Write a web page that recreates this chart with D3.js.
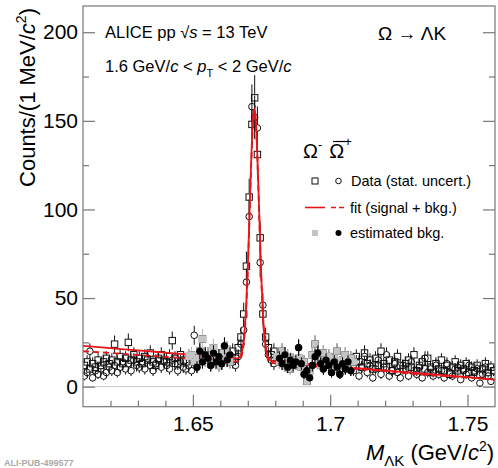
<!DOCTYPE html>
<html><head><meta charset="utf-8">
<script src="https://cdn.jsdelivr.net/npm/d3@7"></script>
<style>body{margin:0;background:#fff} svg{display:block} text{font-family:"Liberation Sans",Arial,Helvetica,sans-serif}</style>
</head><body><svg id="c" width="498" height="468"></svg>
<script>
// ---- binning (1 MeV bins) ----
const binLow = 1.61, binWidth = 0.001, nBins = 150;

// Omega- (open squares), counts per bin
const omegaMinus = [
 12,14,10,13,11,15,12,14,16,13,
 15,24,14,17,13,16,25,15,18,14,
 16,13,17,15,19,14,12,16,18,15,
 14,17,26,16,13,18,15,14,
 17,18,14,16,20,27,15,18,13,22,16,12,19,15,21,14,
 20,16,22,28,41,68,107,148,163,131,84,41,28,22,18,20,17,
 14,20,12,17,10,15,13,16,11,14,3,9,18,24,15,12,19,14,17,11,16,20,13,15,18,12,16,14,
 17,14,11,19,13,15,10,16,12,
 20,13,11,15,9,14,17,12,10,13,
 15,11,18,9,12,14,10,16,11,8,
 13,10,15,9,12,7,11,14,9,12,
 10,13,8,11,9,12,7,10,13,8,11,9
];
// anti-Omega+ (open circles)
const omegaPlus = [
 6,8,20,5,9,7,10,6,8,11,
 9,12,8,11,14,10,13,9,15,12,
 11,14,10,16,12,9,13,15,11,14,
 12,10,15,13,9,14,11,10,
 12,9,29,
 11,20,14,18,16,12,19,14,17,13,23,15,18,
 14,12,17,24,32,59,96,158,152,146,70,46,24,18,15,13,16,
 16,13,18,11,15,12,14,22,13,7,9,5,12,17,19,13,10,15,12,8,14,11,7,13,10,14,9,
 9,14,6,11,17,8,12,5,10,15,
 7,11,18,6,9,13,8,5,12,10,
 6,14,9,7,11,5,16,8,10,6,
 12,7,9,5,13,8,6,10,11,4,
 9,7,12,5,8,10,2,7,11,6,3,9
];
// estimated background (sidebands): first bin index + values
const bkgMinusLeftFirstBin = 38;
const bkgMinusLeft = [17,18,14,16,20,27,15,18,13,22,16,12,19,15,21,14];
const bkgMinusRightFirstBin = 70;
const bkgMinusRight = [17,14,20,12,17,10,15,13,16,11,14,3,9,18,24,15,12,19,14,17,11,16,20,13,15,18,12,16,14];
const bkgPlusLeftFirstBin = 41;
const bkgPlusLeft = [11,20,14,18,16,12,19,14,17,13,23,15,18];
const bkgPlusRightFirstBin = 71;
const bkgPlusRight = [16,13,18,11,15,12,14,22,13,7,9,5,12,17,19,13,10,15,12,8,14,11,7,13,10,14,9];

// fit curves
const fitMass = [1.610,1.620,1.630,1.640,1.650,1.660,1.664,1.666,1.667,1.668,1.6685,1.669,1.6695,1.670,1.6705,1.671,1.6715,1.672,1.6725,1.673,1.6735,1.674,1.6745,1.675,1.6755,1.676,1.6765,1.677,1.678,1.680,1.690,1.700,1.710,1.720,1.730,1.740,1.750,1.760];
const fitMinus = [23,21.7,20.5,19.2,17.9,16.7,16.2,16.0,16.7,20.7,25.8,34.8,48.6,67.8,91.4,116.4,138.7,153.3,156.9,148.5,130.2,106.2,81.1,58.9,41.7,29.8,22.5,18.3,15.1,14.2,13.0,11.7,10.4,9.2,7.9,6.6,5.4,4.0];
const fitPlus  = [20,19,17.9,16.8,15.7,14.7,14.3,14.2,15,19,24,33,46.5,65.5,89,114,136,151,155,146.5,128,104,79,57,40,28,22,17,14,13.1,12,10.9,9.9,8.8,7.2,6.1,5.1,4.0];

// axis ticks
const xMajorTicks = [1.65,1.70,1.75];
const xMinorTicks = [1.62,1.63,1.64,1.66,1.67,1.68,1.69,1.71,1.72,1.73,1.74];
const yMajorTicks = [0,50,100,150,200];
const yMinorTicks = [25,75,125,175];

// ---- drawing ----
const svg = d3.select("#c");
const L=83, R=495, T=6, B=406.7;
const x = d3.scaleLinear().domain([1.61,1.76]).range([L,R]);
const y = d3.scaleLinear().domain([-11.3,214.8]).range([B,T]);
const center = i => binLow + binWidth*(i+0.5);

svg.append("defs").append("clipPath").attr("id","clip")
  .append("rect").attr("x",L).attr("y",T).attr("width",R-L).attr("height",B-T);
const plot = svg.append("g").attr("clip-path","url(#clip)");

// zero line
plot.append("line").attr("x1",L).attr("x2",R).attr("y1",y(0)).attr("y2",y(0))
  .attr("stroke","#c8c8c8").attr("stroke-width",1);

function drawPoints(g, vals, firstBin, shape, opt){
  const pts = vals.map((v,k)=>({m:center(firstBin+k), v}));
  const half = opt.size;
  const eg = g.append("g").attr("stroke",opt.err).attr("stroke-width",1);
  pts.forEach(p=>{
    const e = Math.sqrt(p.v), cx=x(p.m), cy=y(p.v);
    eg.append("line").attr("x1",cx).attr("x2",cx).attr("y1",y(p.v+e)).attr("y2",cy-half);
    eg.append("line").attr("x1",cx).attr("x2",cx).attr("y1",cy+half).attr("y2",y(p.v-e));
  });
  const mg = g.append("g");
  if(shape==="square"){
    mg.selectAll("rect").data(pts).join("rect")
      .attr("x",p=>x(p.m)-half).attr("y",p=>y(p.v)-half)
      .attr("width",2*half).attr("height",2*half)
      .attr("fill",opt.fill).attr("stroke",opt.stroke).attr("stroke-width",opt.sw);
  } else {
    mg.selectAll("circle").data(pts).join("circle")
      .attr("cx",p=>x(p.m)).attr("cy",p=>y(p.v)).attr("r",half)
      .attr("fill",opt.fill).attr("stroke",opt.stroke).attr("stroke-width",opt.sw);
  }
}

const openOpt = {size:3.2, fill:"none", stroke:"#111", sw:1, err:"#111"};
drawPoints(plot, omegaMinus, 0, "square", openOpt);
drawPoints(plot, omegaPlus, 0, "circle", {size:3.3, fill:"none", stroke:"#111", sw:1, err:"#111"});

// fits
const line = d3.line().x((d,i)=>x(fitMass[i])).y(d=>y(d)).curve(d3.curveMonotoneX);
plot.append("path").attr("d",line(fitPlus)).attr("fill","none").attr("stroke","#e8141a")
  .attr("stroke-width",1.8).attr("stroke-dasharray","6,4");
plot.append("path").attr("d",line(fitMinus)).attr("fill","none").attr("stroke","#e8141a")
  .attr("stroke-width",1.8);

// estimated background
const grayOpt = {size:3.5, fill:"#c4c4c4", stroke:"none", sw:0, err:"#c4c4c4"};
drawPoints(plot, bkgMinusLeft, bkgMinusLeftFirstBin, "square", grayOpt);
drawPoints(plot, bkgMinusRight, bkgMinusRightFirstBin, "square", grayOpt);
const blackOpt = {size:3.6, fill:"#000", stroke:"none", sw:0, err:"#000"};
drawPoints(plot, bkgPlusLeft, bkgPlusLeftFirstBin, "circle", blackOpt);
drawPoints(plot, bkgPlusRight, bkgPlusRightFirstBin, "circle", blackOpt);

// frame
svg.append("rect").attr("x",L).attr("y",T).attr("width",R-L).attr("height",B-T)
  .attr("fill","none").attr("stroke","#777").attr("stroke-width",1.2);

// axes
function styleAxis(g){ g.select(".domain").remove(); g.selectAll(".tick line").attr("stroke","#777").attr("stroke-width",1.2);
  g.selectAll("text").attr("font-size",21).attr("fill","#000").attr("font-family",'"Liberation Sans",Arial,sans-serif'); }
svg.append("g").attr("transform",`translate(0,${B})`)
  .call(d3.axisBottom(x).tickValues(xMajorTicks).tickSizeInner(-12).tickSizeOuter(0).tickPadding(9.5)
  .tickFormat(d=>d3.format("")(+d.toFixed(2)))).call(styleAxis);
svg.append("g").attr("transform",`translate(0,${B})`)
  .call(d3.axisBottom(x).tickValues(xMinorTicks).tickSizeInner(-6).tickSizeOuter(0).tickFormat("")).call(styleAxis);
svg.append("g").attr("transform",`translate(${L},0)`)
  .call(d3.axisLeft(y).tickValues(yMajorTicks).tickSizeInner(-12).tickSizeOuter(0).tickPadding(5)).call(styleAxis);
svg.append("g").attr("transform",`translate(${L},0)`)
  .call(d3.axisLeft(y).tickValues(yMinorTicks).tickSizeInner(-6).tickSizeOuter(0).tickFormat("")).call(styleAxis);
svg.append("g").attr("transform",`translate(${R},0)`)
  .call(d3.axisRight(y).tickValues(yMajorTicks).tickSizeInner(-12).tickSizeOuter(0).tickFormat("")).call(styleAxis);
svg.append("g").attr("transform",`translate(${R},0)`)
  .call(d3.axisRight(y).tickValues(yMinorTicks).tickSizeInner(-6).tickSizeOuter(0).tickFormat("")).call(styleAxis);

// axis titles
const yt = svg.append("text").attr("transform","translate(35,8) rotate(-90)").attr("text-anchor","end").attr("font-size",22);
yt.append("tspan").text("Counts/(1 MeV/");
yt.append("tspan").attr("font-style","italic").text("c");
yt.append("tspan").attr("font-size",14).attr("dy",-9).text("2");
yt.append("tspan").attr("dy",9).text(")");

const xt = svg.append("text").attr("x",494).attr("y",460).attr("text-anchor","end").attr("font-size",22);
xt.append("tspan").attr("font-style","italic").text("M");
xt.append("tspan").attr("font-size",15).attr("dy",6).text("ΛK");
xt.append("tspan").attr("dy",-6).text(" (GeV/");
xt.append("tspan").attr("font-style","italic").text("c");
xt.append("tspan").attr("font-size",14).attr("dy",-9).text("2");
xt.append("tspan").attr("dy",9).text(")");

// labels
const t1 = svg.append("text").attr("x",105).attr("y",38).attr("font-size",16.5);
t1.append("tspan").text("ALICE pp ");
t1.append("tspan").text("√");
t1.append("tspan").attr("font-style","italic").text("s");
t1.append("tspan").text(" = 13 TeV");
const t2 = svg.append("text").attr("x",105).attr("y",72).attr("font-size",16.5);
t2.append("tspan").text("1.6 GeV/");
t2.append("tspan").attr("font-style","italic").text("c");
t2.append("tspan").text(" < ");
t2.append("tspan").attr("font-style","italic").text("p");
t2.append("tspan").attr("font-size",11).attr("dy",5).text("T");
t2.append("tspan").attr("dy",-5).text(" < 2 GeV/");
t2.append("tspan").attr("font-style","italic").text("c");
svg.append("text").attr("x",378).attr("y",40).attr("font-size",19).text("Ω → ΛK");

// legend
const lg = svg.append("g");
const h = lg.append("text").attr("x",303).attr("y",158).attr("font-size",20);
h.append("tspan").text("Ω");
h.append("tspan").attr("font-size",13).attr("dy",-9).text("-");
h.append("tspan").attr("dy",9).attr("dx",7).text("Ω");
h.append("tspan").attr("font-size",13).attr("dy",-12).text("+");
lg.append("line").attr("x1",333).attr("x2",349).attr("y1",141.5).attr("y2",141.5).attr("stroke","#000").attr("stroke-width",1.2);

const rows = [181, 207.5, 233];
lg.append("rect").attr("x",312).attr("y",rows[0]-3).attr("width",6).attr("height",6).attr("fill","none").attr("stroke","#111");
lg.append("circle").attr("cx",338.5).attr("cy",rows[0]).attr("r",2.8).attr("fill","none").attr("stroke","#111");
lg.append("text").attr("x",351).attr("y",rows[0]+5).attr("font-size",14.5).text("Data (stat. uncert.)");
lg.append("line").attr("x1",305).attr("x2",325).attr("y1",rows[1]).attr("y2",rows[1]).attr("stroke","#e8141a").attr("stroke-width",1.6);
lg.append("line").attr("x1",331).attr("x2",346).attr("y1",rows[1]).attr("y2",rows[1]).attr("stroke","#e8141a").attr("stroke-width",1.6).attr("stroke-dasharray","5,3");
lg.append("text").attr("x",350).attr("y",rows[1]+5).attr("font-size",14.5).text("fit (signal + bkg.)");
lg.append("rect").attr("x",312).attr("y",rows[2]-3).attr("width",6).attr("height",6).attr("fill","#c4c4c4");
lg.append("circle").attr("cx",338.5).attr("cy",rows[2]).attr("r",3).attr("fill","#000");
lg.append("text").attr("x",350).attr("y",rows[2]+5).attr("font-size",14.5).text("estimated bkg.");

svg.append("text").attr("x",4).attr("y",466).attr("font-size",9).attr("font-weight","bold")
  .attr("fill","#aaa").attr("font-family",'"Liberation Mono","DejaVu Sans Mono",monospace').text("ALI-PUB-499577");
</script></body></html>
